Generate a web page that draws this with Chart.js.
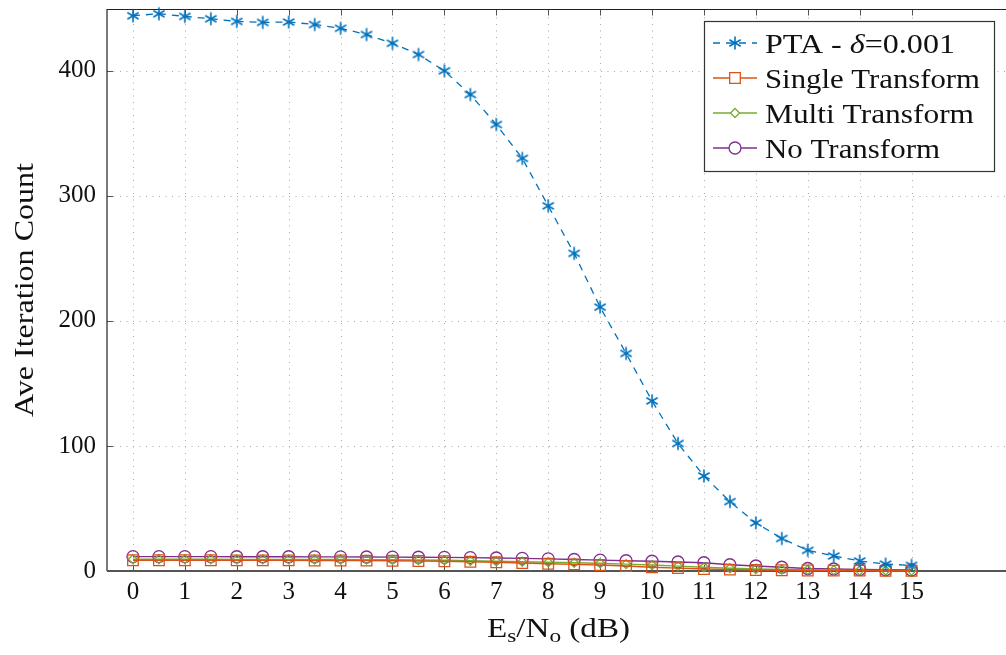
<!DOCTYPE html>
<html>
<head>
<meta charset="utf-8">
<script src="https://cdn.jsdelivr.net/npm/chart.js@4/dist/chart.umd.min.js"></script>
<style>
  html, body { margin: 0; padding: 0; background: #fff; overflow: hidden; }
  canvas { display: block; }
</style>
</head>
<body>
<canvas id="iterations" width="1006" height="655"></canvas>
<script>
// Es/No values (dB)
const snr = [0, 0.5, 1, 1.5, 2, 2.5, 3, 3.5, 4, 4.5, 5, 5.5, 6, 6.5, 7, 7.5,
             8, 8.5, 9, 9.5, 10, 10.5, 11, 11.5, 12, 12.5, 13, 13.5, 14, 14.5, 15];

const pta = [444, 445.6, 443.5, 441.6, 439.5, 438.7, 439, 437, 434, 429, 422, 413,
             400, 381, 357, 330, 292, 254, 211, 174, 136, 102, 76, 55.5, 38.5, 26,
             16.5, 12, 8, 5.5, 4.5];
const singleT = [8.6, 8.6, 8.6, 8.6, 8.5, 8.5, 8.5, 8.4, 8.4, 8.3, 8.2, 8.0,
                 7.8, 7.4, 7.0, 6.4, 5.8, 5.3, 4.8, 4.0, 3.0, 2.3, 1.6, 1.1, 0.8, 0.6,
                 0.4, 0.3, 0.3, 0.2, 0.2];
const multiT = [9.4, 9.4, 9.4, 9.4, 9.3, 9.3, 9.3, 9.2, 9.2, 9.1, 9.0, 8.8,
                8.6, 8.2, 7.8, 7.4, 7.0, 6.6, 6.2, 5.5, 4.8, 3.9, 3.0, 2.2, 1.6, 1.2,
                0.9, 0.7, 0.5, 0.4, 0.3];
const noT = [11.5, 11.5, 11.5, 11.5, 11.4, 11.4, 11.4, 11.3, 11.3, 11.2, 11.1, 11.0,
             10.9, 10.7, 10.4, 10.1, 9.7, 9.2, 8.7, 8.2, 7.8, 7.2, 6.6, 5.0, 4.0, 3.0,
             2.0, 1.6, 1.2, 1.0, 0.8];

const xTicks = [0, 1, 2, 3, 4, 5, 6, 7, 8, 9, 10, 11, 12, 13, 14, 15];
const yTicks = [0, 100, 200, 300, 400];

const FONT = '"Liberation Serif", "DejaVu Serif", serif';

// asterisk marker like pgfplots (3 strokes)
function asterisk(color) {
  const c = document.createElement('canvas');
  c.width = 16; c.height = 16;
  const g = c.getContext('2d');
  g.strokeStyle = color; g.lineWidth = 1.6;
  for (const a of [90, 30, 150]) {
    const r = a * Math.PI / 180;
    g.beginPath();
    g.moveTo(8 - 6.5 * Math.cos(r), 8 - 6.5 * Math.sin(r));
    g.lineTo(8 + 6.5 * Math.cos(r), 8 + 6.5 * Math.sin(r));
    g.stroke();
  }
  return c;
}

function pts(ys) { return snr.map((x, i) => ({x: x, y: ys[i]})); }

// draws text segments [text, fontPrefix, size, dy] stretched to a given width
function stretchText(ctx, segs, x, y, width) {
  let w = 0;
  segs.forEach(s => { ctx.font = s[1] + s[2] + 'px ' + FONT; w += ctx.measureText(s[0]).width; });
  ctx.save();
  ctx.translate(x, y);
  ctx.scale(width / w, 1);
  let cx = 0;
  segs.forEach(s => {
    ctx.font = s[1] + s[2] + 'px ' + FONT;
    ctx.fillText(s[0], cx, s[3] || 0);
    cx += ctx.measureText(s[0]).width;
  });
  ctx.restore();
}

const seriesFrame = {
  id: 'seriesFrame',
  beforeDatasetsDraw(chart) {
    const {ctx, chartArea: a, scales: {x, y}} = chart;
    const right = chart.width;
    ctx.save();
    // dotted grid
    ctx.strokeStyle = '#a8a8a8';
    ctx.lineWidth = 1;
    ctx.setLineDash([1, 5.5]);
    xTicks.forEach(v => {
      const px = Math.round(x.getPixelForValue(v)) + 0.5;
      ctx.beginPath(); ctx.moveTo(px, a.bottom); ctx.lineTo(px, a.top); ctx.stroke();
    });
    yTicks.forEach(v => {
      const py = Math.round(y.getPixelForValue(v)) + 0.5;
      ctx.beginPath(); ctx.moveTo(a.left, py); ctx.lineTo(right, py); ctx.stroke();
    });
    ctx.setLineDash([]);
    // tick marks (inward, bottom and top)
    ctx.strokeStyle = '#555';
    ctx.lineWidth = 1;
    xTicks.forEach(v => {
      const px = Math.round(x.getPixelForValue(v)) + 0.5;
      ctx.beginPath(); ctx.moveTo(px, a.bottom); ctx.lineTo(px, a.bottom - 6); ctx.stroke();
      ctx.beginPath(); ctx.moveTo(px, a.top); ctx.lineTo(px, a.top + 6); ctx.stroke();
    });
    yTicks.forEach(v => {
      const py = Math.round(y.getPixelForValue(v)) + 0.5;
      ctx.beginPath(); ctx.moveTo(a.left, py); ctx.lineTo(a.left + 6, py); ctx.stroke();
    });
    // axis lines
    ctx.strokeStyle = '#222';
    ctx.lineWidth = 1.2;
    ctx.beginPath();
    ctx.moveTo(right, a.top); ctx.lineTo(a.left, a.top); ctx.lineTo(a.left, a.bottom);
    ctx.stroke();
    ctx.strokeStyle = '#555';
    ctx.lineWidth = 2;
    ctx.beginPath(); ctx.moveTo(a.left, a.bottom); ctx.lineTo(right, a.bottom); ctx.stroke();
    ctx.restore();
  },
  afterDraw(chart) {
    const {ctx} = chart;
    ctx.save();
    ctx.fillStyle = '#111';
    ctx.textBaseline = 'alphabetic';
    // y title
    ctx.save();
    ctx.translate(33, 290);
    ctx.rotate(-Math.PI / 2);
    stretchText(ctx, [['Ave Iteration Count', '', 27]], -127, 0, 254);
    ctx.restore();

    // x title with subscripts
    stretchText(ctx, [['E', '', 27, 0], ['s', '', 19, 5], ['/N', '', 27, 0], ['o', '', 19, 5], [' (dB)', '', 27, 0]],
                487, 637, 143);
    ctx.restore();

    // legend
    ctx.save();
    ctx.fillStyle = '#fff';
    ctx.fillRect(704, 21, 291, 151);
    ctx.strokeStyle = '#333';
    ctx.lineWidth = 1.2;
    ctx.strokeRect(704.5, 21.5, 290, 150);
    const rows = [43, 78, 113, 148];
    const widths = [190, 215, 209, 175];
    chart.data.datasets.forEach((ds, i) => {
      const yy = rows[i];
      ctx.strokeStyle = ds.borderColor;
      ctx.lineWidth = ds.borderWidth;
      ctx.setLineDash(ds.borderDash || []);
      ctx.beginPath(); ctx.moveTo(713, yy); ctx.lineTo(757, yy); ctx.stroke();
      ctx.setLineDash([]);
      ctx.fillStyle = '#fff';
      Chart.helpers.drawPoint(ctx, {
        pointStyle: ds.pointStyle, radius: ds.pointRadius, borderWidth: ds.pointBorderWidth, rotation: 0
      }, 735, yy);
      ctx.fillStyle = '#111';
      ctx.textBaseline = 'alphabetic';
      const segs = i === 0
        ? [['PTA - ', '', 27], ['\u03b4', 'italic ', 27], ['=0.001', '', 27]]
        : [[ds.label, '', 27]];
      stretchText(ctx, segs, 765, yy + 9.5, widths[i]);
    });
    ctx.restore();
  }
};

new Chart(document.getElementById('iterations'), {
  type: 'line',
  data: {
    datasets: [{
      label: 'PTA - \u03b4=0.001',
      data: pts(pta),
      borderColor: '#0072bd',
      backgroundColor: '#0072bd',
      borderWidth: 1.3,
      borderDash: [7, 6],
      pointStyle: asterisk('#0072bd'),
      pointRadius: 7,
      pointBorderWidth: 1.3,
      clip: false
    }, {
      label: 'Single Transform',
      data: pts(singleT),
      borderColor: '#d95319',
      backgroundColor: 'rgba(255,255,255,0)',
      borderWidth: 1.3,
      pointStyle: 'rect',
      pointRadius: 7.5,
      pointBorderWidth: 1.3,
      clip: false
    }, {
      label: 'Multi Transform',
      data: pts(multiT),
      borderColor: '#77ac30',
      backgroundColor: 'rgba(255,255,255,0)',
      borderWidth: 1.3,
      pointStyle: 'rectRot',
      pointRadius: 4.5,
      pointBorderWidth: 1.3,
      clip: false
    }, {
      label: 'No Transform',
      data: pts(noT),
      borderColor: '#7e2f8e',
      backgroundColor: 'rgba(255,255,255,0)',
      borderWidth: 1.3,
      pointStyle: 'circle',
      pointRadius: 6,
      pointBorderWidth: 1.3,
      clip: false
    }]
  },
  options: {
    responsive: false,
    animation: false,
    devicePixelRatio: 1,
    layout: { padding: { top: 9.5, right: 0, left: 0, bottom: 0 } },
    plugins: { legend: { display: false }, tooltip: { enabled: false } },
    elements: { line: { tension: 0 } },
    scales: {
      x: {
        type: 'linear',
        min: -0.5,
        max: 16.65,
        afterBuildTicks: s => { s.ticks = xTicks.map(v => ({value: v})); },
        afterFit: s => { s.height = 84; s.paddingLeft = 0; s.paddingRight = 0; },
        grid: { display: false, drawTicks: false },
        border: { display: false },
        ticks: { color: '#111', font: { family: FONT, size: 25 }, padding: 6, maxRotation: 0, autoSkip: false }
      },
      y: {
        min: 0,
        max: 449,
        afterBuildTicks: s => { s.ticks = yTicks.map(v => ({value: v})); },
        afterFit: s => { s.width = 107; s.paddingTop = 0; s.paddingBottom = 0; },
        grid: { display: false, drawTicks: false },
        border: { display: false },
        ticks: { color: '#111', font: { family: FONT, size: 25 }, padding: 11 }
      }
    }
  },
  plugins: [seriesFrame]
});
</script>
</body>
</html>
